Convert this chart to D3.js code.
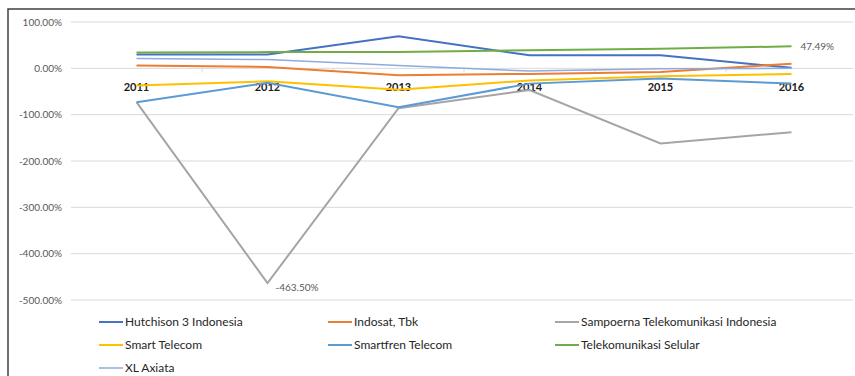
<!DOCTYPE html>
<html>
<head>
<meta charset="utf-8">
<script src="https://cdn.jsdelivr.net/npm/d3@7"></script>
<style>
  body { margin: 0; background: #fff; }
  svg { display: block; }
</style>
</head>
<body>
<svg id="chart" width="855" height="376"></svg>
<script>
// chart data (percent)
var years = ["2011", "2012", "2013", "2014", "2015", "2016"];
var yTicks = [100, 0, -100, -200, -300, -400, -500];

var hutchison  = [30, 30, 69, 28, 28, 1];
var indosat    = [6, 3, -15, -12, -8, 10];
var sampoerna  = [-73, -463.5, -86, -47, -162, -138];
var smart      = [-37, -28, -46, -26, -17, -12];
var smartfren  = [-73, -31, -84, -33, -22, -33];
var telkomsel  = [34, 35, 35, 39, 42, 47.49];
var xl         = [21, 19, 6, -6, -1, 0];

var seriesNames  = ["Hutchison 3 Indonesia", "Indosat, Tbk", "Sampoerna Telekomunikasi Indonesia",
                    "Smart Telecom", "Smartfren Telecom", "Telekomunikasi Selular", "XL Axiata"];
var seriesValues = [hutchison, indosat, sampoerna, smart, smartfren, telkomsel, xl];
var colors = ["#4472c4", "#ed7d31", "#a5a5a5", "#ffc000", "#5b9bd5", "#70ad47", "#8faadc"];

var svg = d3.select("#chart");
var font = "Lato, 'Open Sans', sans-serif";

// frame
svg.append("path")
  .attr("d", "M8,376 L8,9 L855,9")
  .attr("fill", "none")
  .attr("stroke", "#404040")
  .attr("stroke-width", 1.5);

var x = d3.scaleBand().domain(years).range([71, 857]);
var y = d3.scaleLinear().domain([-500, 100]).range([300, 22]);

// gridlines
svg.append("g").selectAll("line")
  .data(yTicks).enter().append("line")
  .attr("x1", 71).attr("x2", 853)
  .attr("y1", function(d) { return y(d); })
  .attr("y2", function(d) { return y(d); })
  .attr("stroke", "#d9d9d9")
  .attr("stroke-width", 1);

// y labels
svg.append("g").selectAll("text")
  .data(yTicks).enter().append("text")
  .attr("x", 62)
  .attr("y", function(d) { return y(d); })
  .attr("dy", "0.35em")
  .attr("text-anchor", "end")
  .attr("font-family", font)
  .attr("font-size", 10)
  .attr("fill", "#595959")
  .text(function(d) { return d.toFixed(2) + "%"; });

// category ticks on the zero line
svg.append("g").selectAll("line")
  .data(years.slice(1)).enter().append("line")
  .attr("x1", function(d) { return x(d); })
  .attr("x2", function(d) { return x(d); })
  .attr("y1", y(0)).attr("y2", y(0) + 4)
  .attr("stroke", "#d9d9d9");

// year labels
svg.append("g").selectAll("text")
  .data(years).enter().append("text")
  .attr("x", function(d) { return x(d) + x.bandwidth() / 2; })
  .attr("y", y(0) + 23)
  .attr("text-anchor", "middle")
  .attr("font-family", font)
  .attr("font-weight", "bold")
  .attr("font-size", 11)
  .attr("fill", "#1a1a1a")
  .text(function(d) { return d; });

// lines
var line = d3.line()
  .x(function(d, i) { return x(years[i]) + x.bandwidth() / 2; })
  .y(function(d) { return y(d); });

svg.append("g").selectAll("path")
  .data(seriesValues).enter().append("path")
  .attr("d", line)
  .attr("fill", "none")
  .attr("stroke", function(d, i) { return colors[i]; })
  .attr("stroke-width", function(d, i) { return i == 6 ? 1.5 : 2; });

// data labels
function cx(i) { return x(years[i]) + x.bandwidth() / 2; }
svg.append("text")
  .attr("x", cx(5) + 9).attr("y", y(telkomsel[5])).attr("dy", "0.35em")
  .attr("font-family", font).attr("font-size", 10).attr("fill", "#595959")
  .text(telkomsel[5].toFixed(2) + "%");
svg.append("text")
  .attr("x", cx(1) + 8).attr("y", y(sampoerna[1]) + 4).attr("dy", "0.35em")
  .attr("font-family", font).attr("font-size", 10).attr("fill", "#595959")
  .text(sampoerna[1].toFixed(2) + "%");

// legend
var legX = [99, 328, 555];
var leg = svg.append("g").selectAll("g")
  .data(seriesNames).enter().append("g")
  .attr("transform", function(d, i) {
    return "translate(" + legX[i % 3] + "," + (322 + Math.floor(i / 3) * 23) + ")";
  });
leg.append("line")
  .attr("x1", 0).attr("x2", 24)
  .attr("stroke", function(d, i) { return colors[i]; })
  .attr("stroke-width", function(d, i) { return i == 6 ? 1.5 : 2; });
leg.append("text")
  .attr("x", 26).attr("dy", "0.35em")
  .attr("font-family", font).attr("font-size", 12)
  .attr("fill", "#262626")
  .text(function(d) { return d; });
</script>
</body>
</html>
